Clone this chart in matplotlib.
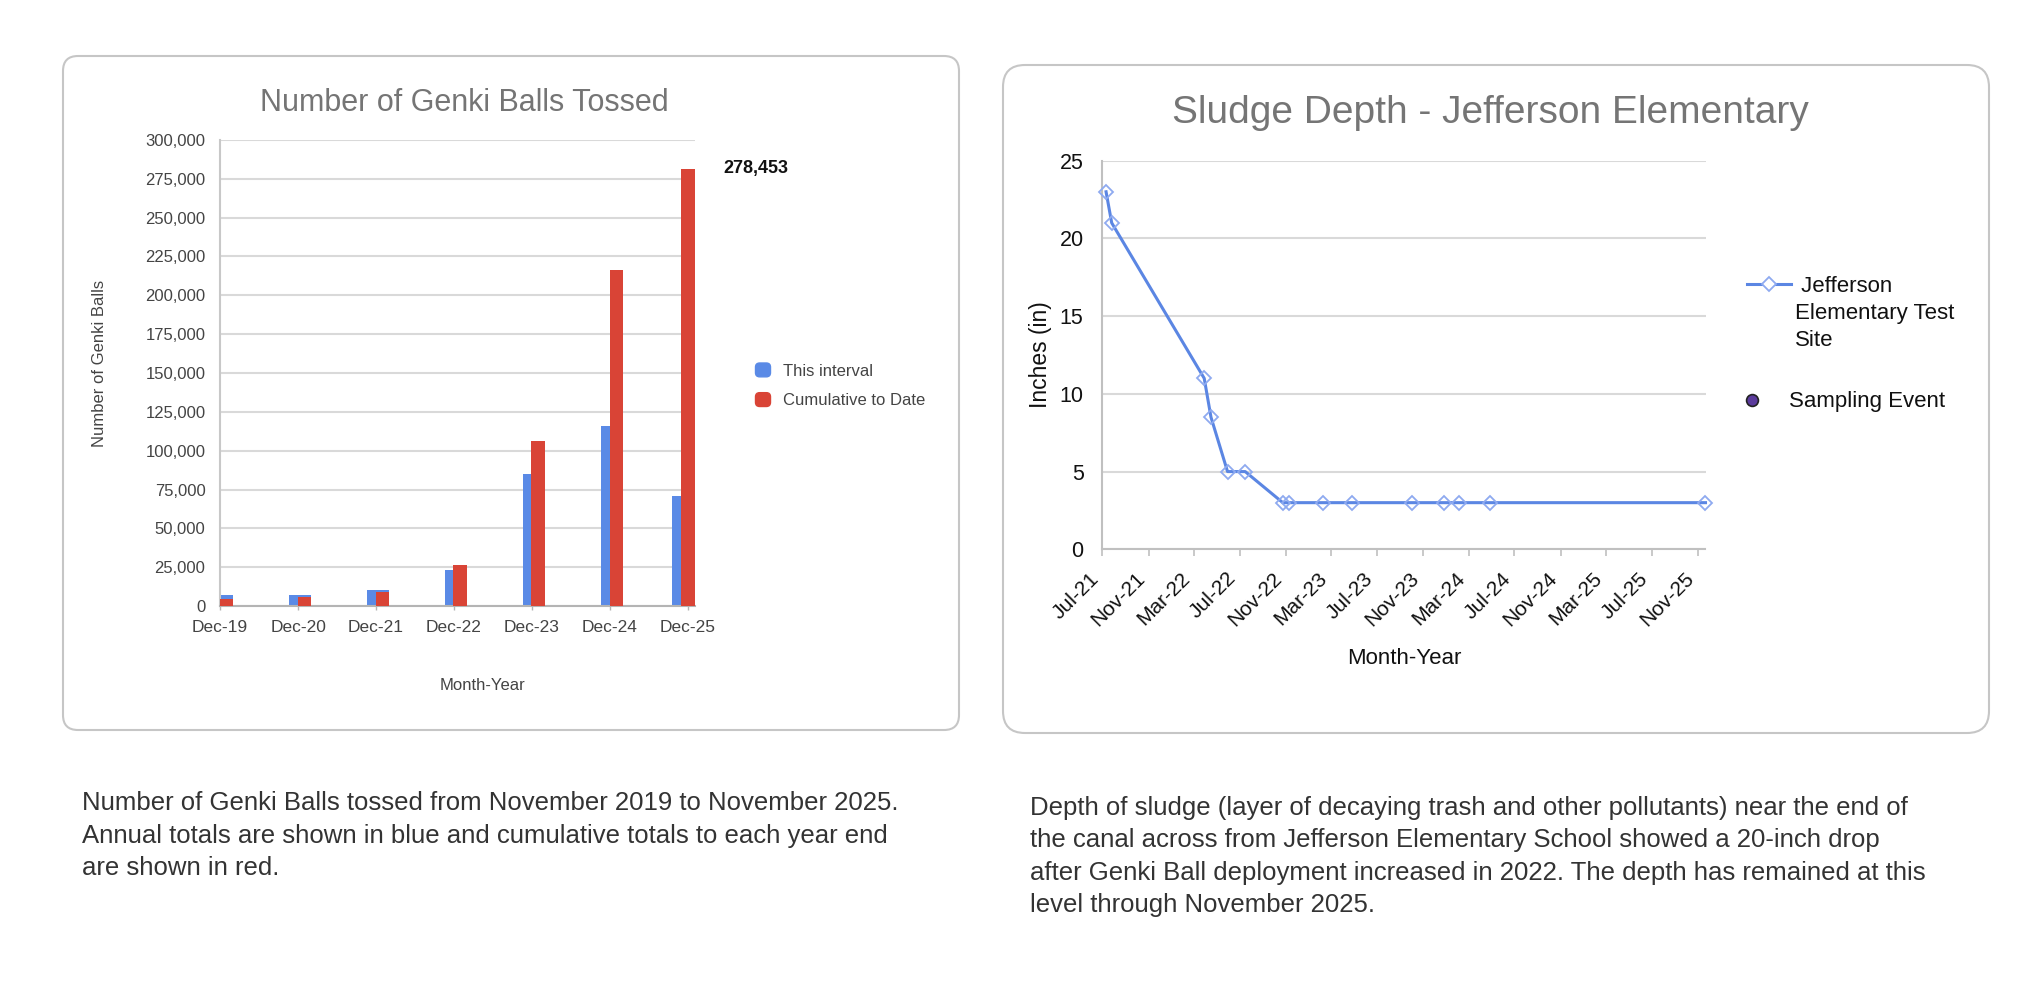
import datetime as dt
import matplotlib
matplotlib.use("Agg")
import matplotlib.pyplot as plt
import matplotlib.dates as mdates
from matplotlib.patches import FancyBboxPatch, Patch
from matplotlib.lines import Line2D
from matplotlib.legend_handler import HandlerPatch
from matplotlib.ticker import FuncFormatter, MultipleLocator

plt.rcParams['font.family'] = ['Liberation Sans', 'DejaVu Sans']

W, H = 2044, 1000


def fx(px):
    return px / W


def fy(py):
    return 1 - py / H


# ---- data: Genki balls tossed ----
interval_end = [dt.date(2019, 12, 31), dt.date(2020, 12, 31), dt.date(2021, 12, 31),
                dt.date(2022, 12, 31), dt.date(2023, 12, 31), dt.date(2024, 12, 31),
                dt.date(2025, 11, 30)]
this_interval = [7000, 7000, 10000, 23000, 85000, 116000, 71000]
cumulative = [4500, 5500, 9000, 26500, 106000, 216000, 281500]
total_label = 278453
bar_series = ["This interval", "Cumulative to Date"]

# ---- data: sludge depth ----
sample_dates = [dt.date(2021, 7, 11), dt.date(2021, 7, 26), dt.date(2022, 3, 29),
                dt.date(2022, 4, 16), dt.date(2022, 5, 30), dt.date(2022, 7, 16),
                dt.date(2022, 10, 24), dt.date(2022, 11, 9), dt.date(2023, 2, 9),
                dt.date(2023, 4, 27), dt.date(2023, 10, 2), dt.date(2023, 12, 27),
                dt.date(2024, 2, 5), dt.date(2024, 4, 27), dt.date(2025, 11, 21)]
depth_in = [23, 21, 11, 8.5, 5, 5, 3, 3, 3, 3, 3, 3, 3, 3, 3]
site_label = ["Jefferson", "Elementary Test", "Site"]

caption_left = ["Number of Genki Balls tossed from November 2019 to November 2025.",
                "Annual totals are shown in blue and cumulative totals to each year end",
                "are shown in red."]
caption_right = ["Depth of sludge (layer of decaying trash and other pollutants) near the end of",
                 "the canal across from Jefferson Elementary School showed a 20-inch drop",
                 "after Genki Ball deployment increased in 2022. The depth has remained at this",
                 "level through November 2025."]

BLUE = "#5a8ae6"
RED = "#d94436"
LINE_BLUE = "#5b86e3"
MARK_EDGE = "#8eaaf0"
GRID = "#d9d9d9"

fig = plt.figure(figsize=(W / 100, H / 100), dpi=100)

# panel frames
for x0, y0, x1, y1, r in [(63, 56, 959, 730, 15), (1003, 65, 1989, 733, 22)]:
    box = FancyBboxPatch((fx(x0), fy(y1)), fx(x1) - fx(x0), fy(y0) - fy(y1),
                         boxstyle=f"round,pad=0,rounding_size={r / W}",
                         mutation_aspect=W / H, transform=fig.transFigure,
                         facecolor="white", edgecolor="#c6c6c6", linewidth=1.5, zorder=0)
    fig.add_artist(box)

# ---- left chart ----
ax1 = fig.add_axes([fx(220), fy(606), 475 / W, 466 / H])
ax1.set_facecolor("none")
blue_x = [d - dt.timedelta(days=20) for d in interval_end]
ax1.bar(blue_x, this_interval, width=105, color=BLUE, zorder=2, label=bar_series[0])
ax1.bar(interval_end, cumulative, width=65, color=RED, zorder=3, label=bar_series[1])

ax1.set_xlim(dt.date(2019, 12, 1), dt.date(2026, 1, 3))
ax1.set_ylim(0, 300000)
ax1.yaxis.set_major_locator(MultipleLocator(25000))
ax1.yaxis.set_major_formatter(FuncFormatter(lambda v, p: f"{int(v):,}"))
ax1.xaxis.set_major_locator(mdates.MonthLocator(bymonth=[12]))
ax1.xaxis.set_major_formatter(mdates.DateFormatter("%b-%y"))
ax1.grid(axis="y", color=GRID, linewidth=1.5, zorder=1)
ax1.set_axisbelow(True)
for s in ["top", "right"]:
    ax1.spines[s].set_visible(False)
ax1.spines["left"].set_color("#c8c8c8")
ax1.spines["left"].set_linewidth(1.5)
ax1.spines["bottom"].set_color("#b4b4b4")
ax1.spines["bottom"].set_linewidth(1.5)
ax1.tick_params(axis="y", length=0, pad=10.5, labelsize=12, labelcolor="#444444")
ax1.tick_params(axis="x", length=3, width=1, color="#b4b4b4", pad=7,
                labelsize=12.5, labelcolor="#444444")

ax1.set_ylabel("Number of Genki Balls", fontsize=12, color="#444444")
ax1.yaxis.set_label_coords(-0.238, 0.52)
ax1.set_xlabel("Month-Year", fontsize=12, color="#444444")
ax1.xaxis.set_label_coords(0.553, -0.155)

ax1.annotate(f"{total_label:,}", xy=(interval_end[-1], cumulative[-1]), xytext=(26, 0),
             textcoords="offset points", ha="left", va="center", fontsize=13,
             fontweight="bold", color="#111111", annotation_clip=False)

fig.text(fx(464), fy(111), "Number of Genki Balls Tossed", ha="center", va="baseline",
         fontsize=22, color="#757575")


def rounded_square(legend, orig_handle, xdescent, ydescent, width, height, fontsize):
    return FancyBboxPatch((-xdescent, -ydescent), width, height,
                          boxstyle="round,pad=0,rounding_size=3")


fig.legend(handles=[Patch(color=BLUE), Patch(color=RED)], labels=bar_series,
           loc="upper left", bbox_to_anchor=(fx(755.5), fy(363)),
           bbox_transform=fig.transFigure, frameon=False, borderpad=0,
           borderaxespad=0, handlelength=0.9, handleheight=0.9,
           handletextpad=0.73, labelspacing=0.84, fontsize=12,
           labelcolor="#444444", handler_map={Patch: HandlerPatch(patch_func=rounded_square)})

# ---- right chart ----
ax2 = fig.add_axes([fx(1102.3), fy(549.3), 603.2 / W, 388.6 / H])
ax2.set_facecolor("none")
ax2.plot(sample_dates, depth_in, color=LINE_BLUE, linewidth=2.2, marker="D", markersize=7.5,
         markerfacecolor="none", markeredgecolor=MARK_EDGE, markeredgewidth=1.3,
         clip_on=False, zorder=3)
ax2.set_xlim(dt.date(2021, 7, 1), dt.date(2025, 11, 21))
ax2.set_ylim(0, 25)
ax2.yaxis.set_major_locator(MultipleLocator(5))
ax2.xaxis.set_major_locator(mdates.MonthLocator(bymonth=[3, 7, 11]))
ax2.xaxis.set_major_formatter(mdates.DateFormatter("%b-%y"))
ax2.grid(axis="y", color=GRID, linewidth=1.5, zorder=1)
ax2.set_axisbelow(True)
for s in ["top", "right"]:
    ax2.spines[s].set_visible(False)
for s in ["left", "bottom"]:
    ax2.spines[s].set_color("#c0c0c0")
    ax2.spines[s].set_linewidth(1.5)
ax2.tick_params(axis="y", length=0, pad=13.5, labelsize=15.5, labelcolor="#111111")
ax2.tick_params(axis="x", length=5, width=1.2, color="#c0c0c0", pad=9,
                labelsize=15, labelcolor="#111111")
for lbl in ax2.get_xticklabels():
    lbl.set_rotation(45)
    lbl.set_ha("right")

ax2.set_ylabel("Inches (in)", fontsize=16.5, color="#111111")
ax2.yaxis.set_label_coords(-0.083, 0.5)
ax2.set_xlabel("Month-Year", fontsize=16, color="#111111")
ax2.xaxis.set_label_coords(0.5, -0.254)

fig.text(fx(1490), fy(123), "Sludge Depth - Jefferson Elementary", ha="center",
         va="baseline", fontsize=28, color="#757575")

site_handle = Line2D([], [], color=LINE_BLUE, linewidth=2.2, marker="D", markersize=7.5,
                     markerfacecolor="white", markeredgecolor=MARK_EDGE, markeredgewidth=1.3)
fig.legend(handles=[site_handle], labels=[" " + site_label[0]],
           loc="center left", bbox_to_anchor=(fx(1747), fy(286)),
           bbox_transform=fig.transFigure, frameon=False, borderpad=0,
           borderaxespad=0, handlelength=2.0, handletextpad=0.17,
           fontsize=16, labelcolor="#111111")
for i, line in enumerate(site_label[1:]):
    fig.text(fx(1795), fy(313.5 + i * 26.5), line, ha="left", va="center", fontsize=16,
             color="#111111")

event_handle = Line2D([], [], linestyle="none", marker="o", markersize=8.5,
                      markerfacecolor="#5b3b9c", markeredgecolor="#222222", markeredgewidth=1.2)
fig.legend(handles=[event_handle], labels=["Sampling Event"],
           loc="center left", bbox_to_anchor=(fx(1740), fy(402)),
           bbox_transform=fig.transFigure, frameon=False, borderpad=0,
           borderaxespad=0, handlelength=1.1, handletextpad=1.1,
           fontsize=16, labelcolor="#111111")

# ---- captions ----
for i, line in enumerate(caption_left):
    fig.text(fx(82), fy(803 + i * 32.5), line, ha="left", va="center", fontsize=18.5,
             color="#333333")
for i, line in enumerate(caption_right):
    fig.text(fx(1030), fy(808 + i * 32.3), line, ha="left", va="center", fontsize=18.5,
             color="#333333")

fig.savefig("out.png", dpi=100)
